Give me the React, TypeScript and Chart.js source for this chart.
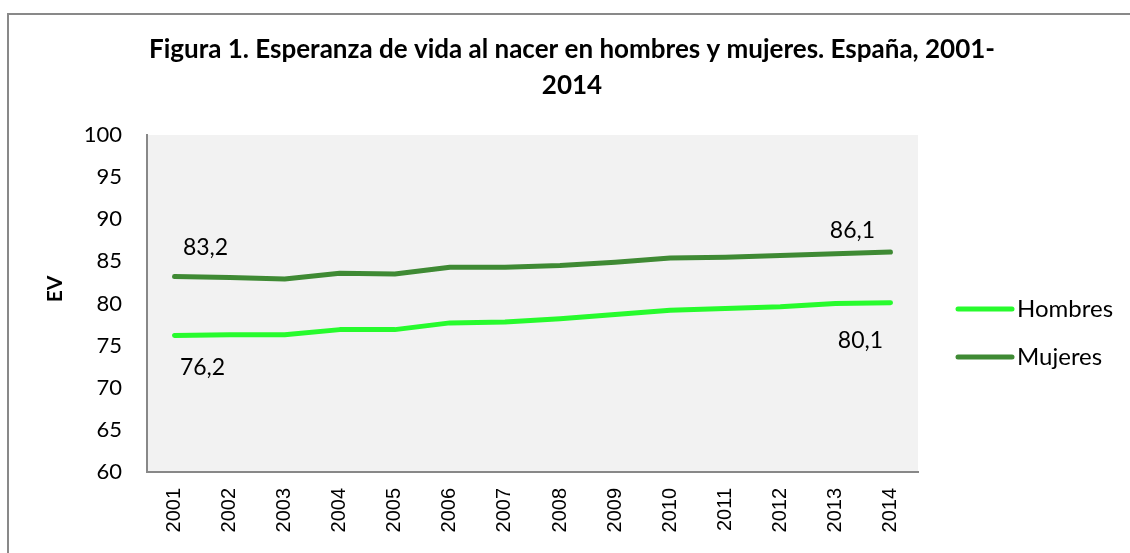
import React, { useEffect, useRef } from "react";
import { Chart, registerables } from "chart.js";

Chart.register(...registerables);

const years = ["2001","2002","2003","2004","2005","2006","2007","2008","2009","2010","2011","2012","2013","2014"];
const hombres = [76.2, 76.3, 76.3, 76.9, 76.9, 77.7, 77.8, 78.2, 78.7, 79.2, 79.4, 79.6, 80.0, 80.1];
const mujeres = [83.2, 83.1, 82.9, 83.6, 83.5, 84.3, 84.3, 84.5, 84.9, 85.4, 85.5, 85.7, 85.9, 86.1];
const seriesNames = ["Hombres", "Mujeres"];
const yTicks = [60, 65, 70, 75, 80, 85, 90, 95, 100];
const titleLines = ["Figura 1. Esperanza de vida al nacer en hombres y mujeres. España, 2001-", "2014"];
const axisTitle = "EV";

const COLORS = ["#27fb2d", "#3f8a34"];
const AXIS = "#888888";

export default function App() {
  const ref = useRef<HTMLCanvasElement | null>(null);

  useEffect(() => {
    const canvas = ref.current;
    if (!canvas) return;

    // fit title width
    const m = document.createElement("canvas").getContext("2d")!;
    m.font = "bold 20px Lato";
    const w = m.measureText(titleLines[0]).width || 847;
    const titleSize = Math.round((20 * 847) / w * 10) / 10;

    // label offsets relative to points (dataset, index, dx, dy)
    const labelSpecs = [
      { ds: 1, idx: 0, dx: 31, dy: -29 },
      { ds: 0, idx: 0, dx: 28, dy: 32 },
      { ds: 1, idx: 13, dx: -38, dy: -22 },
      { ds: 0, idx: 13, dx: -30, dy: 38 },
    ];

    const custom = {
      id: "custom",
      beforeDraw(chart: any) {
        const { ctx, chartArea: a } = chart;
        ctx.save();
        ctx.fillStyle = "#f2f2f2";
        ctx.fillRect(a.left, a.top, a.right - a.left, a.bottom - a.top);
        ctx.restore();
      },
      afterDraw(chart: any) {
        const { ctx } = chart;
        ctx.save();
        // data labels
        ctx.fillStyle = "#000";
        ctx.font = "23px Lato";
        ctx.textAlign = "center";
        ctx.textBaseline = "middle";
        for (const s of labelSpecs) {
          const meta = chart.getDatasetMeta(s.ds);
          const pt = meta.data[s.idx];
          const v = chart.data.datasets[s.ds].data[s.idx] as number;
          ctx.fillText(v.toFixed(1).replace(".", ","), pt.x + s.dx, pt.y + s.dy);
        }
        // axis title
        ctx.save();
        ctx.translate(55, 289);
        ctx.rotate(-Math.PI / 2);
        ctx.font = "bold 21px Lato";
        ctx.fillText(axisTitle, 0, 0);
        ctx.restore();
        // legend
        const rows = [309, 357];
        chart.data.datasets.forEach((d: any, i: number) => {
          const y = rows[i];
          ctx.strokeStyle = d.borderColor;
          ctx.lineWidth = 5;
          ctx.lineCap = "round";
          ctx.beginPath();
          ctx.moveTo(958, y);
          ctx.lineTo(1012, y);
          ctx.stroke();
          ctx.fillStyle = "#000";
          ctx.textAlign = "left";
          ctx.font = "24px Lato";
          ctx.fillText(d.label, 1017, y);
        });
        ctx.restore();
      },
    };

    const chart = new Chart(canvas, {
      type: "line",
      data: {
        labels: years,
        datasets: [
          {
            label: seriesNames[0],
            data: hombres,
            borderColor: COLORS[0],
            backgroundColor: COLORS[0],
            borderWidth: 5,
            pointRadius: 0,
            tension: 0,
            borderCapStyle: "round",
            borderJoinStyle: "round",
          },
          {
            label: seriesNames[1],
            data: mujeres,
            borderColor: COLORS[1],
            backgroundColor: COLORS[1],
            borderWidth: 5,
            pointRadius: 0,
            tension: 0,
            borderCapStyle: "round",
            borderJoinStyle: "round",
          },
        ],
      },
      options: {
        animation: false,
        responsive: false,
        devicePixelRatio: 1,
        layout: { padding: { left: 14, right: 0, top: 0, bottom: 0 } },
        plugins: {
          legend: { display: false },
          tooltip: { enabled: false },
          title: {
            display: true,
            text: titleLines,
            color: "#000",
            font: { family: "Lato", weight: "bold", size: titleSize, lineHeight: "36px" },
            padding: { top: 32, bottom: 31 },
          },
        },
        scales: {
          x: {
            type: "category",
            offset: true,
            grid: { display: false, drawTicks: false },
            border: { display: true, color: AXIS, width: 2 },
            ticks: {
              color: "#000",
              font: { family: "Liberation Sans", size: 20 },
              minRotation: 90,
              maxRotation: 90,
              autoSkip: false,
              padding: 16,
            },
            afterFit: (s: any) => { s.height = 81; },
          },
          y: {
            min: 60,
            max: 100,
            afterBuildTicks: (s: any) => { s.ticks = yTicks.map((v) => ({ value: v })); },
            grid: { display: false, drawTicks: false },
            border: { display: true, color: AXIS, width: 2 },
            ticks: {
              color: "#000",
              font: { family: "Lato", size: 22 },
              padding: 25,
            },
            afterFit: (s: any) => { s.width = 133; },
          },
          yRight: {
            position: "right",
            display: true,
            grid: { display: false, drawTicks: false },
            border: { display: false },
            ticks: { display: false },
            afterFit: (s: any) => { s.width = 212; },
          },
        },
      },
      plugins: [custom],
    } as any);

    return () => chart.destroy();
  }, []);

  return (
    <div style={{ position: "absolute", left: 0, top: 0, width: 1130, height: 553, overflow: "hidden", background: "#fff" }}>
      <div style={{ position: "absolute", left: 7, top: 13, width: 1300, height: 700, border: "2px solid #898989" }} />
      <canvas ref={ref} width={1130} height={553} style={{ position: "absolute", left: 0, top: 0, width: 1130, height: 553 }} />
    </div>
  );
}
